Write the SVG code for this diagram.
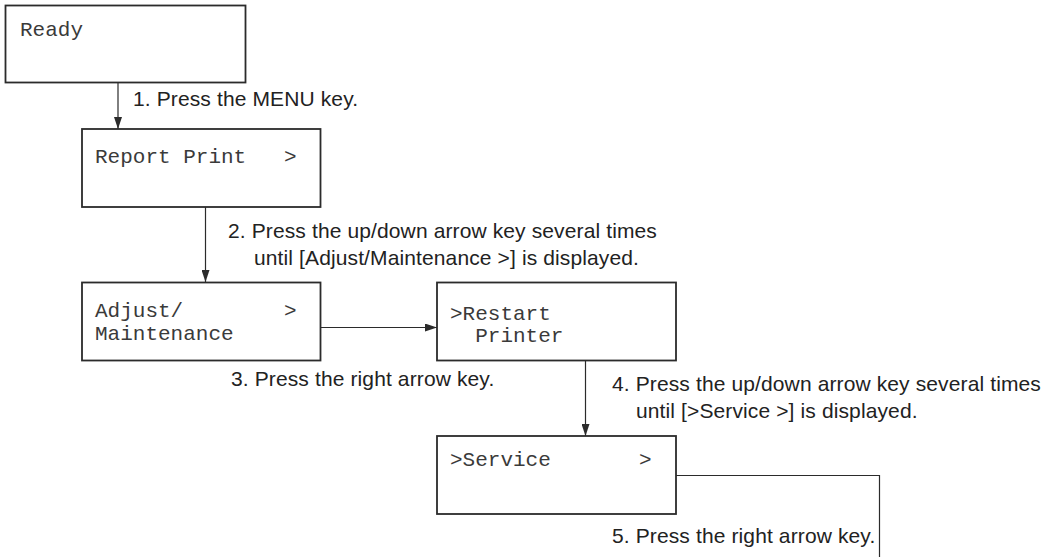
<svg xmlns="http://www.w3.org/2000/svg" width="1045" height="557" viewBox="0 0 1045 557">
<style>
.box{fill:#fff;stroke:#2b2b2b;stroke-width:1.8}
.lcd{font-family:"Liberation Mono","Courier New",monospace;font-size:21px;fill:#3a3a3a;white-space:pre}
.lbl{font-family:"Liberation Sans",Arial,sans-serif;font-size:21px;letter-spacing:0.12px;fill:#222}
.con{fill:none;stroke:#2b2b2b;stroke-width:1.2}
</style>
<defs>
<marker id="ah" viewBox="0 0 12 8" refX="12" refY="4" markerWidth="12" markerHeight="8" markerUnits="userSpaceOnUse" orient="auto">
<path d="M0,0 L12,4 L0,8 Z" fill="#2b2b2b"/>
</marker>
</defs>
<rect width="1045" height="557" fill="#fff"/>
<g id="connectors">
<line class="con" x1="118" y1="83" x2="118" y2="129" marker-end="url(#ah)"/>
<line class="con" x1="205.5" y1="207" x2="205.5" y2="282" marker-end="url(#ah)"/>
<line class="con" x1="320" y1="327.5" x2="437" y2="327.5" marker-end="url(#ah)"/>
<line class="con" x1="585.5" y1="361" x2="585.5" y2="436" marker-end="url(#ah)"/>
<polyline class="con" points="676,475.5 879.5,475.5 879.5,557"/>
</g>
<g id="labels">
<text class="lbl" x="133" y="106">1. Press the MENU key.</text>
<text class="lbl" x="228" y="238">2. Press the up/down arrow key several times</text>
<text class="lbl" x="254" y="265">until [Adjust/Maintenance &gt;] is displayed.</text>
<text class="lbl" x="231" y="386">3. Press the right arrow key.</text>
<text class="lbl" x="612" y="391">4. Press the up/down arrow key several times</text>
<text class="lbl" x="636" y="418">until [&gt;Service &gt;] is displayed.</text>
<text class="lbl" x="612" y="543">5. Press the right arrow key.</text>
</g>
<g id="ready">
<rect class="box" x="5.5" y="5.5" width="240" height="77"/>
<text class="lcd" x="20" y="36">Ready</text>
</g>
<g id="report-print">
<rect class="box" x="82" y="129" width="238.5" height="78"/>
<text class="lcd" x="95" y="163">Report Print   &gt;</text>
</g>
<g id="adjust-maintenance">
<rect class="box" x="82" y="282.5" width="238.5" height="78"/>
<text class="lcd" x="95" y="317">Adjust/        &gt;</text>
<text class="lcd" x="95" y="340">Maintenance</text>
</g>
<g id="restart-printer">
<rect class="box" x="437" y="282.5" width="239" height="78"/>
<text class="lcd" x="450" y="320">&gt;Restart</text>
<text class="lcd" x="450" y="342">  Printer</text>
</g>
<g id="service">
<rect class="box" x="437" y="436" width="239" height="78"/>
<text class="lcd" x="450" y="466">&gt;Service       &gt;</text>
</g>
</svg>
